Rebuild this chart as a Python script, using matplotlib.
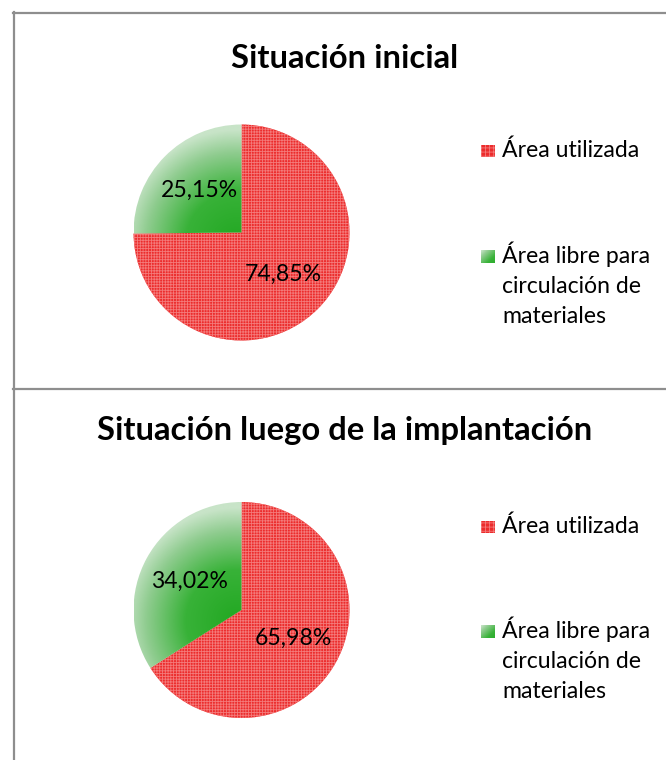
import numpy as np
import matplotlib
matplotlib.use("Agg")
import matplotlib.pyplot as plt
from matplotlib.patches import Rectangle
from matplotlib.lines import Line2D
from matplotlib.colors import LinearSegmentedColormap

plt.rcParams['font.family'] = ['Lato', 'DejaVu Sans']
plt.rcParams['hatch.linewidth'] = 0.6
plt.rcParams['hatch.color'] = '#f47a7a'

# data
categorias = ['Área utilizada', 'Área libre para\ncirculación de\nmateriales']
titulos = ['Situación inicial', 'Situación luego de la implantación']
inicial = [74.85, 25.15]
implantacion = [65.98, 34.02]

RED = '#ec2c2c'
HATCH_RED = '#f47a7a'
green_cmap = LinearSegmentedColormap.from_list(
    'g', [(0, '#22a822'), (0.45, '#38b238'), (0.8, '#8fcc8f'), (1, '#c8e4c8')])

W, H = 666, 760
fig = plt.figure(figsize=(W / 100, H / 100), dpi=100)


def px(x, y):
    return x / W, 1 - y / H


def fmt(p):
    return f'{p:.2f}'.replace('.', ',') + '%'


def draw_panel(values, title, cy, title_y, leg_y):
    r = 108
    cx = 241.5
    half = 1.2 * r
    ax = fig.add_axes([(cx - half) / W, (H - cy - half) / H, 2 * half / W, 2 * half / H])
    wedges, texts, autotexts = ax.pie(values, startangle=90, counterclock=False,
                                      autopct=fmt, pctdistance=0.55,
                                      wedgeprops=dict(linewidth=0),
                                      textprops=dict(fontsize=16.6, color='black'))
    ax.set_xlim(-1.2, 1.2)
    ax.set_ylim(-1.2, 1.2)
    ax.set_aspect('equal')
    ax.axis('off')

    red, green = wedges
    red.set_facecolor(RED)
    red.set_edgecolor(HATCH_RED)
    red.set_hatch('++++++')

    green.set_facecolor('none')
    yy, xx = np.mgrid[-1:1:300j, -1:1:300j]
    dist = np.hypot(xx + 0.05, yy + 0.1)
    im = ax.imshow(dist, extent=[-1, 1, -1, 1], origin='lower', cmap=green_cmap,
                   vmin=0, vmax=1.05, zorder=1.5)
    im.set_clip_path(green)
    for t in autotexts:
        t.set_zorder(3)

    fig.text(*px(345, title_y), title, ha='center', va='baseline',
             fontsize=23.6, fontweight='bold')

    # legend
    y1, y2 = leg_y
    fig.patches.append(Rectangle(px(481, y1), 14 / W, 12 / H, transform=fig.transFigure,
                                 facecolor=RED, edgecolor=HATCH_RED, hatch='++++',
                                 linewidth=0))
    fig.text(*px(502, y1), categorias[0], fontsize=16.6, va='baseline')
    # green swatch with a diagonal gradient
    lax = fig.add_axes([481 / W, 1 - y2 / H, 14 / W, 13 / H])
    gy, gx = np.mgrid[0:1:20j, 0:1:20j]
    lax.imshow(1.05 - (gx + (1 - gy)) / 2 * 0.8, cmap=green_cmap, vmin=0, vmax=1.05,
               origin='lower', aspect='auto', extent=[0, 1, 0, 1])
    lax.axis('off')
    for i, line in enumerate(categorias[1].split('\n')):
        fig.text(*px(502, y2 + 30 * i), line, fontsize=16.6, va='baseline')


draw_panel(inicial, titulos[0], 232.5, 68, (157, 263))
draw_panel(implantacion, titulos[1], 610, 440, (533, 638))

# frame lines
grey = '#8e8e8e'
fig.add_artist(Line2D([13.5 / W, 13.5 / W], [0, 1 - 12 / H], color=grey, lw=1.6, transform=fig.transFigure))
fig.add_artist(Line2D([13 / W, 1], [1 - 12.5 / H] * 2, color=grey, lw=1.6, transform=fig.transFigure))
fig.add_artist(Line2D([13 / W, 1], [1 - 389 / H] * 2, color=grey, lw=1.6, transform=fig.transFigure))

fig.savefig('out.png', dpi=100)
